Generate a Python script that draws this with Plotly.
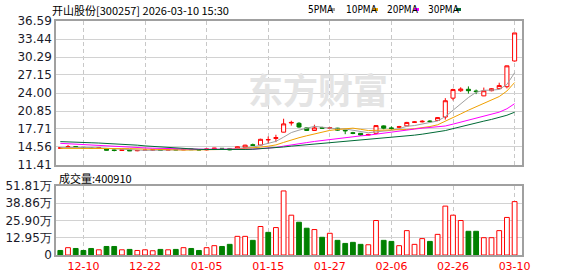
import plotly.graph_objects as go

# ---------------- data ----------------
dates = [
    "2025-12-05", "2025-12-08", "2025-12-09", "2025-12-10", "2025-12-11", "2025-12-12",
    "2025-12-15", "2025-12-16", "2025-12-17", "2025-12-18", "2025-12-19", "2025-12-22",
    "2025-12-23", "2025-12-24", "2025-12-25", "2025-12-26", "2025-12-29", "2025-12-30",
    "2025-12-31", "2026-01-05", "2026-01-06", "2026-01-07", "2026-01-08", "2026-01-09",
    "2026-01-12", "2026-01-13", "2026-01-14", "2026-01-15", "2026-01-16", "2026-01-19",
    "2026-01-20", "2026-01-21", "2026-01-22", "2026-01-23", "2026-01-26", "2026-01-27",
    "2026-01-28", "2026-01-29", "2026-01-30", "2026-02-02", "2026-02-03", "2026-02-04",
    "2026-02-05", "2026-02-06", "2026-02-09", "2026-02-10", "2026-02-11", "2026-02-12",
    "2026-02-13", "2026-02-24", "2026-02-25", "2026-02-26", "2026-02-27", "2026-03-02",
    "2026-03-03", "2026-03-04", "2026-03-05", "2026-03-06", "2026-03-09", "2026-03-10",
]
opens = [14.35, 14.45, 14.62, 14.50, 14.42, 14.38, 14.22, 14.05, 13.95, 14.05,
         13.90, 13.95, 14.00, 14.05, 14.00, 14.10, 14.05, 14.20, 14.10, 14.05,
         14.25, 14.32, 14.30, 14.20, 14.50, 14.95, 14.90, 15.80, 16.05, 17.15,
         18.75, 18.70, 17.90, 17.45, 17.95, 17.85, 17.85, 17.50, 17.05, 16.95,
         16.65, 16.95, 18.25, 17.90, 18.00, 18.25, 18.85, 18.95, 19.10, 19.20,
         19.80, 23.10, 24.40, 24.65, 24.35, 23.50, 24.40, 24.75, 25.10, 29.60]
highs = [14.55, 14.90, 14.65, 14.55, 14.50, 14.52, 14.30, 14.15, 14.12, 14.10,
         14.00, 14.05, 14.10, 14.10, 14.15, 14.15, 14.28, 14.22, 14.12, 14.25,
         14.40, 14.38, 14.35, 14.65, 14.95, 15.15, 16.00, 16.40, 16.70, 19.50,
         19.15, 18.90, 17.95, 18.45, 18.10, 18.05, 17.90, 17.55, 17.20, 17.00,
         16.85, 18.40, 18.35, 18.15, 18.25, 18.95, 19.05, 19.25, 19.25, 19.80,
         23.10, 24.75, 25.00, 25.15, 24.60, 24.95, 24.85, 25.80, 28.80, 34.50]
lows = [14.28, 14.38, 14.45, 14.35, 14.30, 14.30, 13.95, 13.80, 13.90, 13.85,
        13.82, 13.90, 13.95, 13.95, 13.98, 14.00, 14.02, 14.05, 14.00, 14.02,
        14.20, 14.25, 14.00, 14.15, 14.45, 14.80, 14.85, 15.20, 15.40, 17.10,
        18.30, 17.90, 17.35, 17.40, 17.70, 17.75, 17.40, 16.80, 16.80, 16.55,
        16.60, 16.80, 17.65, 17.60, 17.90, 18.20, 18.75, 18.85, 18.85, 19.10,
        19.35, 22.70, 24.20, 23.90, 23.80, 23.45, 24.30, 24.70, 24.80, 29.50]
closes = [14.40, 14.60, 14.50, 14.42, 14.38, 14.45, 14.00, 13.95, 14.05, 13.90,
          13.95, 14.00, 14.05, 14.00, 14.10, 14.05, 14.20, 14.10, 14.05, 14.20,
          14.35, 14.30, 14.05, 14.60, 14.88, 14.85, 15.90, 15.85, 16.20, 18.60,
          18.85, 18.05, 17.45, 17.90, 17.85, 17.90, 17.50, 17.40, 16.95, 16.65,
          16.75, 18.30, 17.85, 17.80, 18.10, 18.85, 18.95, 19.05, 19.00, 19.70,
          22.65, 24.60, 24.70, 24.40, 24.25, 24.40, 24.75, 25.30, 28.75, 34.50]
prev_close = 14.45  # close of the day before the first bar
volumes = [34000, 55000, 49000, 34000, 49000, 39000, 64000, 64000, 39000, 42000,
           34000, 39000, 32000, 42000, 39000, 42000, 55000, 49000, 34000, 55000,
           70000, 64000, 80000, 140000, 140000, 110000, 214000, 170000, 206000, 481000,
           299000, 246000, 201000, 191000, 133000, 163000, 110000, 87000, 95000, 80000,
           77000, 259000, 110000, 102000, 70000, 183000, 80000, 123000, 102000, 155000,
           367000, 299000, 259000, 178000, 178000, 130000, 130000, 183000, 282000, 400910]
ma5 = [14.45, 14.50, 14.52, 14.48, 14.46, 14.47, 14.35, 14.24, 14.17, 14.07,
       13.97, 13.97, 13.99, 13.98, 14.02, 14.04, 14.08, 14.09, 14.10, 14.12,
       14.18, 14.20, 14.19, 14.30, 14.44, 14.54, 14.86, 15.22, 15.54, 16.28,
       17.08, 17.51, 17.83, 18.17, 18.02, 17.83, 17.72, 17.71, 17.52, 17.28,
       17.05, 17.21, 17.30, 17.47, 17.76, 18.18, 18.31, 18.55, 18.79, 19.11,
       19.87, 21.00, 22.13, 23.21, 24.12, 24.47, 24.50, 24.62, 25.49, 27.54]
ma10 = [14.32, 14.33, 14.34, 14.35, 14.35, 14.36, 14.33, 14.30, 14.28, 14.27,
        14.22, 14.16, 14.12, 14.07, 14.05, 14.01, 14.03, 14.04, 14.04, 14.07,
        14.11, 14.14, 14.14, 14.20, 14.28, 14.36, 14.53, 14.70, 14.92, 15.36,
        15.81, 16.18, 16.52, 16.85, 17.15, 17.46, 17.62, 17.77, 17.85, 17.65,
        17.44, 17.47, 17.51, 17.50, 17.52, 17.62, 17.76, 17.93, 18.13, 18.44,
        19.03, 19.66, 20.34, 21.00, 21.62, 22.17, 22.75, 23.38, 24.35, 25.83]
ma20 = [15.20, 15.12, 15.02, 14.92, 14.85, 14.78, 14.70, 14.64, 14.58, 14.52,
        14.46, 14.40, 14.35, 14.30, 14.26, 14.23, 14.21, 14.19, 14.18, 14.17,
        14.17, 14.15, 14.13, 14.14, 14.16, 14.18, 14.28, 14.37, 14.48, 14.71,
        14.96, 15.16, 15.33, 15.53, 15.71, 15.91, 16.07, 16.24, 16.38, 16.50,
        16.62, 16.82, 17.01, 17.17, 17.34, 17.54, 17.69, 17.85, 17.99, 18.04,
        18.23, 18.56, 18.92, 19.25, 19.57, 19.89, 20.26, 20.65, 21.24, 22.13]
ma30 = [15.50, 15.48, 15.45, 15.40, 15.30, 15.25, 15.20, 15.10, 15.02, 14.95,
        14.88, 14.75, 14.65, 14.55, 14.48, 14.42, 14.32, 14.22, 14.15, 14.12,
        14.10, 14.08, 14.07, 14.08, 14.12, 14.17, 14.24, 14.33, 14.44, 14.56,
        14.71, 14.83, 14.93, 15.04, 15.16, 15.27, 15.39, 15.50, 15.60, 15.69,
        15.79, 15.93, 16.06, 16.18, 16.32, 16.48, 16.63, 16.80, 16.97, 17.15,
        17.43, 17.77, 18.12, 18.45, 18.76, 19.08, 19.38, 19.69, 20.11, 20.64]
date_tick_labels = ["12-10", "12-22", "01-05", "01-15", "01-27", "02-06", "02-26", "03-10"]
price_ticks = [11.41, 14.56, 17.71, 20.85, 24.00, 27.15, 30.29, 33.44, 36.59]
vol_ticks = [0, 129525, 259050, 388575, 518100]
vol_tick_labels = ["0", "12.95万", "25.90万", "38.86万", "51.81万"]
title_text = "开山股份[300257] 2026-03-10 15:30"
vol_title = "成交量:400910"
ma_names = ["5PMA", "10PMA", "20PMA", "30PMA"]

# ---------------- style ----------------
W, H = 578, 276
ML, MR, MT, MB = 56, 56, 21, 21
PW, PH = W - ML - MR, H - MT - MB
RED, GREEN = "#ff0000", "#008000"
MA_COLORS = ["#a0a0a0", "#f0a000", "#ff00ff", "#006a36"]
GRID = "#d2d2d2"
FRAME = "#a0a0a0"
CJK = "Noto Sans CJK SC"


def px(x):
    return (x - ML) / PW


def py(y):
    return (H - MB - y) / PH


tickvals = [d for d in dates if d[5:] in date_tick_labels]
ticktext = [d[5:] for d in tickvals]

prevs = [prev_close] + closes[:-1]
up = [c >= p for c, p in zip(closes, prevs)]
vol_fill = ["#ffffff" if u else GREEN for u in up]
vol_line = [RED if u else GREEN for u in up]

fig = go.Figure()
fig.add_trace(go.Candlestick(
    x=dates, open=opens, high=highs, low=lows, close=closes,
    xaxis="x", yaxis="y",
    increasing=dict(line=dict(color=RED, width=1), fillcolor="#ffffff"),
    decreasing=dict(line=dict(color=GREEN, width=1), fillcolor=GREEN),
    whiskerwidth=0, showlegend=False, hoverinfo="skip",
))
for name, vals, col in zip(ma_names, [ma5, ma10, ma20, ma30], MA_COLORS):
    fig.add_trace(go.Scatter(x=dates, y=vals, mode="lines", name=name,
                             line=dict(color=col, width=1), xaxis="x", yaxis="y",
                             showlegend=False, hoverinfo="skip"))
fig.add_trace(go.Bar(
    x=dates, y=volumes, xaxis="x2", yaxis="y2", width=0.62,
    marker=dict(color=vol_fill, line=dict(color=vol_line, width=1)),
    showlegend=False, hoverinfo="skip",
))

xcommon = dict(type="category", range=[-0.56, 59.96], tickvals=tickvals,
               showgrid=True, gridcolor="#c8c8c8", griddash="4px,3px", gridwidth=1,
               showline=True, mirror=True, linecolor=FRAME, linewidth=1.5,
               ticks="", zeroline=False, fixedrange=True)
ycommon = dict(showgrid=True, gridcolor=GRID, gridwidth=1, showline=True, mirror=True,
               linecolor=FRAME, linewidth=1.5, ticks="", zeroline=False,
               tickfont=dict(family="DejaVu Sans", size=12, color="#1a1a2a"),
               automargin=False, fixedrange=True)

fig.update_layout(
    width=W, height=H,
    margin=dict(l=ML, r=MR, t=MT, b=MB, pad=0),
    paper_bgcolor="#ffffff", plot_bgcolor="#ffffff",
    showlegend=False, boxgap=0.25,
    xaxis=dict(xcommon, anchor="y", domain=[0, 1], showticklabels=False,
               rangeslider=dict(visible=False)),
    yaxis=dict(ycommon, domain=[py(165), 1], range=[11.41, 36.59],
               tickvals=price_ticks, ticktext=["%.2f" % v for v in price_ticks]),
    xaxis2=dict(xcommon, anchor="y2", domain=[0, 1], ticktext=ticktext,
                tickfont=dict(family="DejaVu Sans", size=11, color=RED),
                automargin=False),
    yaxis2=dict(ycommon, domain=[0, py(186)], range=[0, 518100],
                tickvals=vol_ticks, ticktext=vol_tick_labels),
)

ann = []
ann.append(dict(text=title_text, x=px(50), y=py(10), xref="paper", yref="paper",
                xanchor="left", yanchor="middle", showarrow=False,
                font=dict(family=CJK, size=11, color="#000000")))
ann.append(dict(text=vol_title, x=px(57), y=py(178), xref="paper", yref="paper",
                xanchor="left", yanchor="middle", showarrow=False,
                font=dict(family=CJK, size=11, color="#000000")))
ann.append(dict(text="<b>东方财富</b>", x=px(318), y=py(89), xref="paper", yref="paper",
                xanchor="center", yanchor="middle", showarrow=False,
                font=dict(family=CJK, size=35, color="#e4e4e4")))
text_left = [306, 344, 385, 426]
square_left = [330, 373, 414, 456]
shapes = []
for name, col, xl, sl in zip(ma_names, MA_COLORS, text_left, square_left):
    ann.append(dict(text=name, x=px(xl), y=py(10), xref="paper", yref="paper",
                    xanchor="left", yanchor="middle", showarrow=False,
                    font=dict(family="DejaVu Sans Condensed", size=10, color="#000000")))
    shapes.append(dict(type="rect", xref="paper", yref="paper",
                       x0=px(sl), x1=px(sl + 5), y0=py(11), y1=py(8),
                       fillcolor=col, line=dict(width=0)))
fig.update_layout(annotations=ann, shapes=shapes)

fig.write_html("out.html")
